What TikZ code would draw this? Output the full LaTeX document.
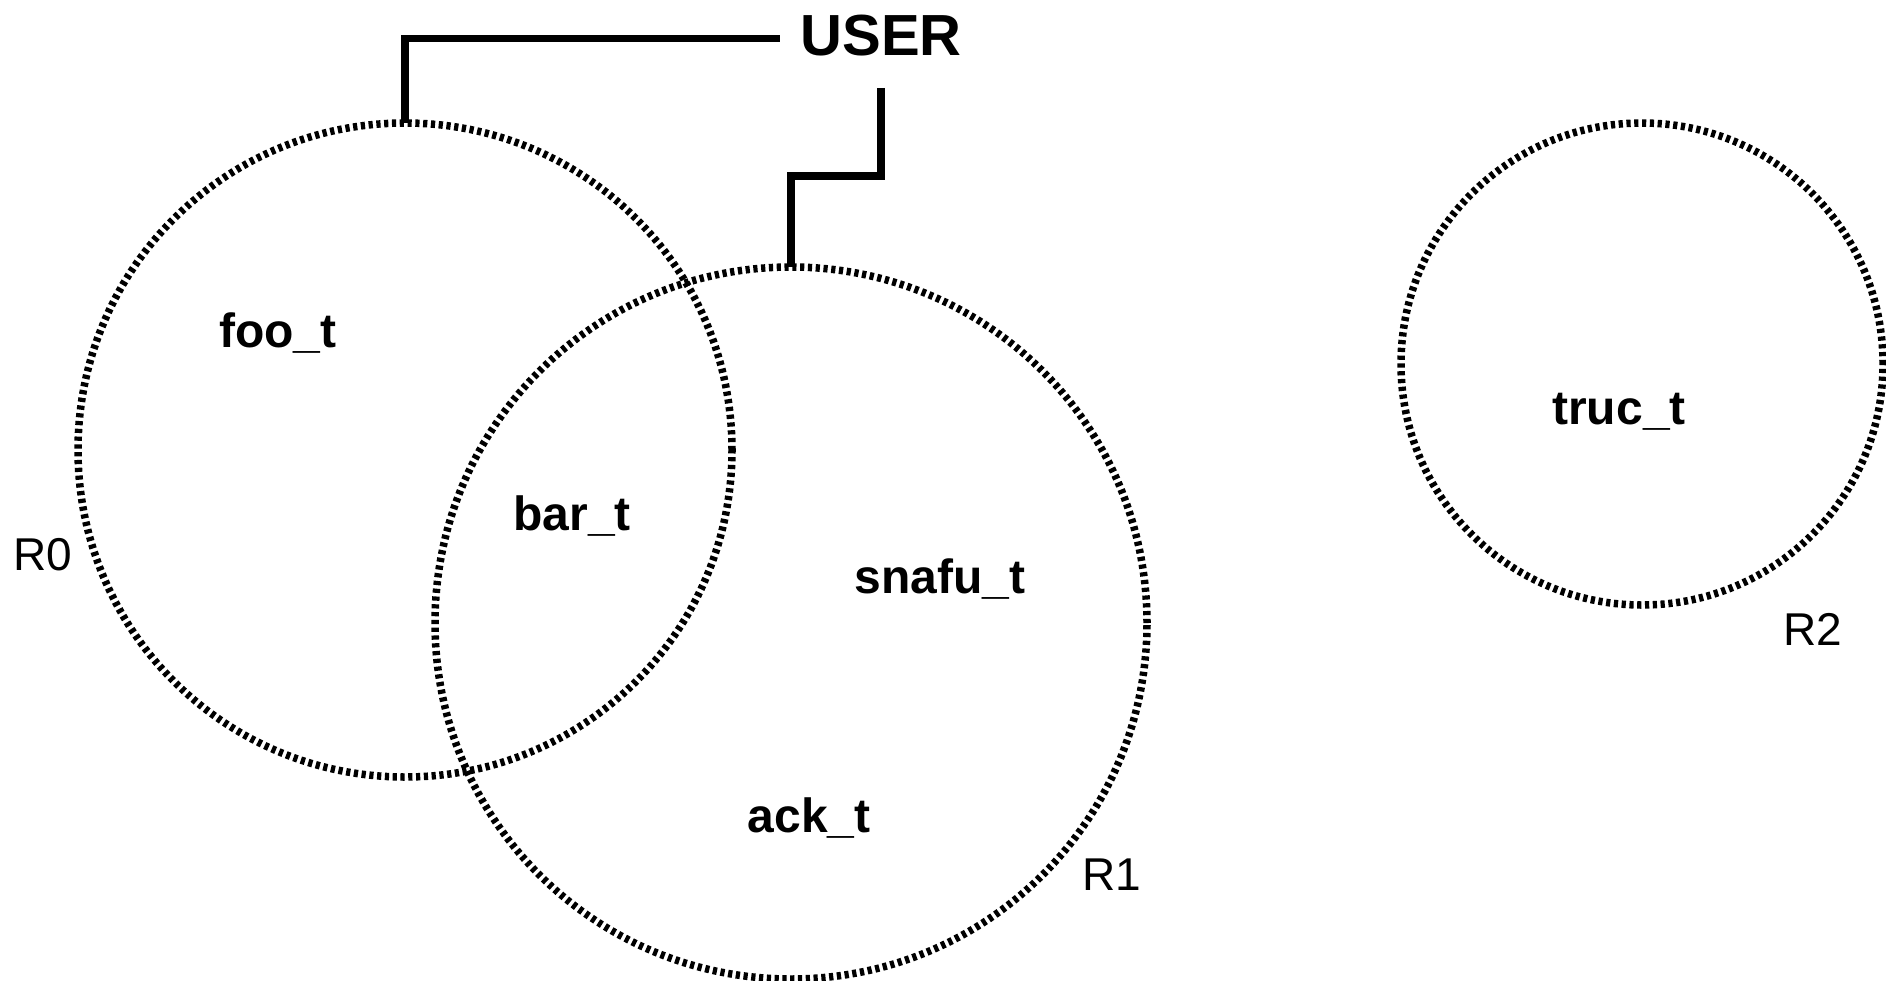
\documentclass[tikz,border=0pt]{standalone}
\usepackage{fontspec}
\setmainfont{Liberation Sans}
\begin{document}
\begin{tikzpicture}[x=1pt,y=-1pt,
  region/.style={circle, draw, line width=7.5pt, dash pattern=on 4.2pt off 3.6pt,
                 inner sep=0pt, outer sep=0pt, minimum size=#1},
  typename/.style={anchor=base, font=\bfseries\fontsize{48}{50}\selectfont},
  regname/.style={anchor=base, font=\fontsize{46}{50}\selectfont},
  link/.style={line width=7.5pt, line join=miter}
]
\useasboundingbox (0,0) rectangle (1886,980);

% regions
\node[region=654pt] (r0) at (405,450) {};
\node[region=712pt] (r1) at (791,623) {};
\node[region=482pt] (r2) at (1642,364) {};

% region names
\node[regname] (l0) at (43,570) {R0};
\node[regname] (l1) at (1112,890) {R1};
\node[regname] (l2) at (1813,645) {R2};

% types held in the regions
\node[typename] (foo)   at (278,347)  {foo\_t};
\node[typename] (bar)   at (572,530)  {bar\_t};
\node[typename] (snafu) at (940,593)  {snafu\_t};
\node[typename] (ack)   at (809,832)  {ack\_t};
\node[typename] (truc)  at (1619,424) {truc\_t};

% user and its links to the regions
\node[anchor=base, font=\bfseries\fontsize{58}{60}\selectfont,
      inner xsep=20pt, inner ysep=31.5pt] (user) at (881,55.5) {USER};

\draw[link] (r0.north) |- ([yshift=-3pt]user.west);
\draw[link] (user.south) -- ++(0,88) -| (r1.north);
\end{tikzpicture}
\end{document}
